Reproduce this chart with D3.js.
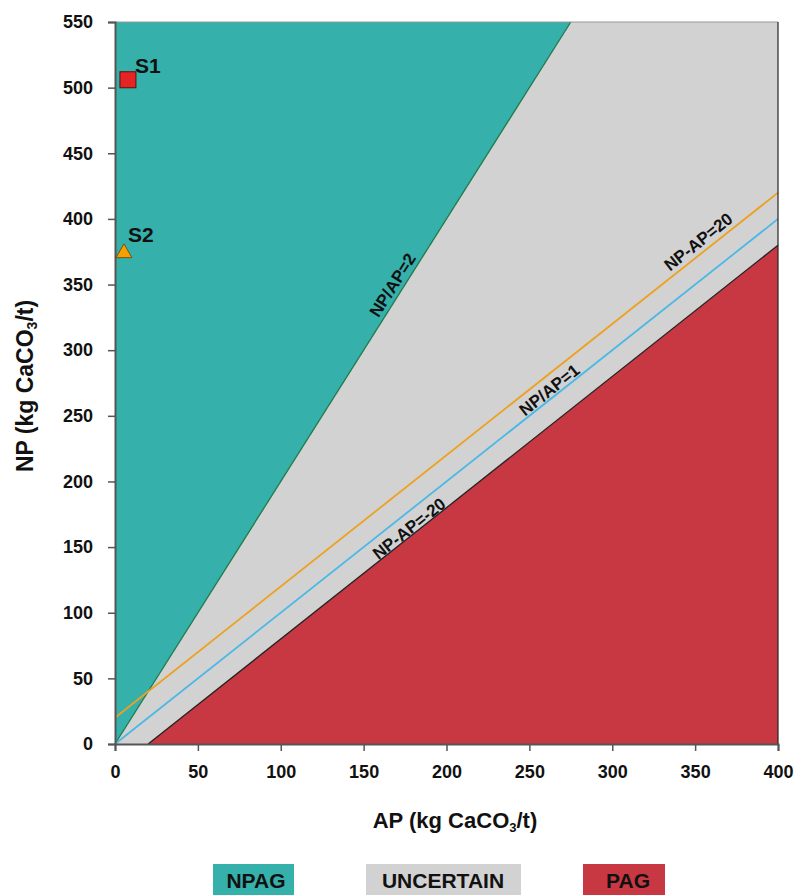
<!DOCTYPE html>
<html><head><meta charset="utf-8">
<script src="https://cdn.jsdelivr.net/npm/d3@7"></script>
<style>body{margin:0;background:#fff}svg text{font-family:Arial,"Liberation Sans",sans-serif;font-weight:bold}</style>
</head><body><svg id="c" width="795" height="895"></svg>
<script>
const xTicks=[0,50,100,150,200,250,300,350,400];
const yTicks=[0,50,100,150,200,250,300,350,400,450,500,550];
const samples=[{name:"S1",ap:7.8,np:506,shape:"square",color:"#e52424"},{name:"S2",ap:5.4,np:374,shape:"triangle",color:"#f5a000"}];
const npagPoly=[[0,0],[275,550],[0,550]];
const uncertainPoly=[[0,0],[275,550],[400,550],[400,380],[20,0]];
const pagPoly=[[20,0],[400,380],[400,0]];
const lineNP2=[[0,0],[275,550]];
const lineP20=[[0,20],[400,420]];
const lineNP1=[[0,0],[400,400]];
const lineM20=[[20,0],[400,380]];
const legend=[{label:"NPAG",color:"#35b0aa"},{label:"UNCERTAIN",color:"#d2d2d2"},{label:"PAG",color:"#c83842"}];

const svg=d3.select("#c");
const x=d3.scaleLinear().domain([0,400]).range([115,778]);
const y=d3.scaleLinear().domain([0,550]).range([744,22]);
const line=d3.line().x(d=>x(d[0])).y(d=>y(d[1]));
svg.append("path").attr("d",line(npagPoly)+"Z").attr("fill","#35b0aa");
svg.append("path").attr("d",line(uncertainPoly)+"Z").attr("fill","#d2d2d2");
svg.append("path").attr("d",line(pagPoly)+"Z").attr("fill","#c83842");
svg.append("path").attr("d",line(lineNP2)).attr("stroke","#1f7a48").attr("stroke-width",1.3).attr("fill","none");
svg.append("path").attr("d",line(lineM20)).attr("stroke","#222").attr("stroke-width",1.3).attr("fill","none");
svg.append("path").attr("d",line(lineNP1)).attr("stroke","#4bb8e6").attr("stroke-width",1.8).attr("fill","none");
svg.append("path").attr("d",line(lineP20)).attr("stroke","#eea020").attr("stroke-width",1.8).attr("fill","none");
// frame
svg.append("line").attr("x1",x(0)).attr("x2",x(400)).attr("y1",y(550)).attr("y2",y(550)).attr("stroke","#9a9a9a").attr("stroke-width",1.2);
svg.append("line").attr("x1",x(400)).attr("x2",x(400)).attr("y1",y(550)).attr("y2",y(0)).attr("stroke","#222").attr("stroke-width",1.2);
// axes
const xa=svg.append("g").attr("transform",`translate(0,${y(0)})`).call(d3.axisBottom(x).tickValues(xTicks).tickSize(7).tickPadding(14));
const ya=svg.append("g").attr("transform",`translate(${x(0)},0)`).call(d3.axisLeft(y).tickValues(yTicks).tickSize(7).tickPadding(15));
[xa,ya].forEach(g=>{g.select(".domain").attr("stroke","#555").attr("stroke-width",2);g.selectAll(".tick line").attr("stroke","#555").attr("stroke-width",1.5);g.selectAll("text").attr("font-size",18).attr("fill","#111").style("font-family","Arial, 'Liberation Sans', sans-serif").style("font-weight","bold");});
// line labels
function angle(p){const a=Math.atan2(y(p[1][1])-y(p[0][1]),x(p[1][0])-x(p[0][0]));return a*180/Math.PI;}
function lab(t,ap,np,ln,off){
  const px=x(ap),py=y(np),a=angle(ln);
  svg.append("text").attr("transform",`translate(${px},${py}) rotate(${a}) translate(0,${off})`).attr("text-anchor","middle").attr("font-size",17).attr("fill","#111").text(t);
}
lab("NP/AP=2",172,346,lineNP2,-3);
lab("NP/AP=1",265,265,lineNP1,-2);
lab("NP-AP=20",356,376,lineP20,-5);
lab("NP-AP=-20",180,160,lineM20,-1);
// samples
samples.forEach(s=>{
  const px=x(s.ap),py=y(s.np);
  if(s.shape==="square"){
    svg.append("rect").attr("x",px-8).attr("y",py-8).attr("width",16).attr("height",16).attr("fill",s.color).attr("stroke","#5a1010").attr("stroke-width",1);
    svg.append("text").attr("x",px+7).attr("y",py-7).attr("font-size",21).attr("fill","#111").text(s.name);
  } else {
    svg.append("path").attr("d",d3.symbol(d3.symbolTriangle,110)()).attr("transform",`translate(${px},${py})`).attr("fill",s.color).attr("stroke","#6a4000").attr("stroke-width",0.8);
    svg.append("text").attr("x",px+4).attr("y",py-11).attr("font-size",21).attr("fill","#111").text(s.name);
  }
});
// axis titles
const yt=svg.append("text").attr("transform","translate(33,386) rotate(-90)").attr("text-anchor","middle").attr("font-size",23).attr("fill","#111");
yt.append("tspan").text("NP (kg CaCO");yt.append("tspan").attr("font-size",14).attr("dy",4).text("3");yt.append("tspan").attr("dy",-4).text("/t)");
const xt=svg.append("text").attr("x",455).attr("y",828).attr("text-anchor","middle").attr("font-size",22).attr("fill","#111");
xt.append("tspan").text("AP (kg CaCO");xt.append("tspan").attr("font-size",13).attr("dy",4).text("3");xt.append("tspan").attr("dy",-4).text("/t)");
// legend
const lx=[213,366,583],lw=[81,155,82],tc=[256,443,628];
legend.forEach((d,i)=>{
  svg.append("rect").attr("x",lx[i]).attr("y",864).attr("width",lw[i]).attr("height",34).attr("fill",d.color);
  svg.append("text").attr("x",tc[i]).attr("y",888).attr("text-anchor","middle").attr("font-size",21).attr("fill","#111").text(d.label);
});
</script></body></html>
